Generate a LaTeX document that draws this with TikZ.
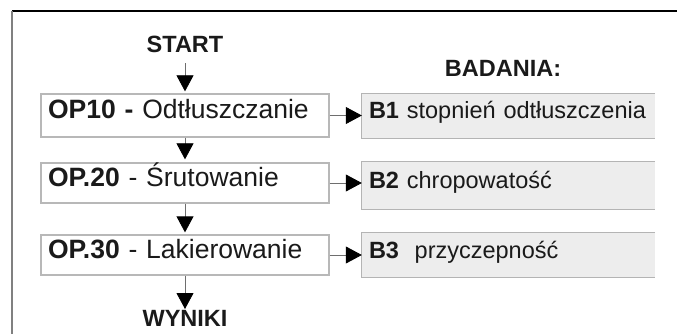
\documentclass[tikz,border=0pt]{standalone}
\usepackage{fontspec}
\setmainfont{Liberation Sans}
\usetikzlibrary{arrows.meta}

\definecolor{ink}{HTML}{1A1A1A}
\definecolor{opborder}{HTML}{B8B8B8}
\definecolor{bfill}{HTML}{EDEDED}
\definecolor{bborder}{HTML}{B4B4B4}
\definecolor{stem}{HTML}{6E6E6E}

\tikzset{
  opbox/.style={draw=opborder, line width=1.3pt, fill=white, rectangle,
    minimum width=288pt, inner xsep=7pt, inner ysep=0pt,
    text width=274pt, align=left, text=ink,
    font=\fontsize{26.5}{31}\selectfont, text height=0.75em, text depth=0.15em},
  bbox/.style={fill=bfill, rectangle,
    minimum width=293pt, inner xsep=7pt, inner ysep=0pt,
    text width=279pt, align=left, text=ink,
    font=\fontsize{23.5}{27}\selectfont, text height=0.75em, text depth=0.15em},
  bedge/.style={draw=bborder, line width=1.3pt},
  heading/.style={inner sep=0pt, text=ink, font=\bfseries\fontsize{23.5}{27}\selectfont,
    text height=0.75em, text depth=0.15em},
  flow/.style={draw=stem, line width=0.8pt,
    -{Triangle[length=16pt, width=17pt, fill=black, color=black]}},
}

\begin{document}
\begin{tikzpicture}[x=1pt, y=-1pt]
  \useasboundingbox (0,0) rectangle (677,334);

  % frame
  \draw[black, line width=1.2pt] (12,11) -- (677,11);
  \draw[gray, line width=2pt] (12,11) -- (12,334);

  % headings
  \node[heading, anchor=base] (start) at (185,52.7) {START};
  \node[heading, anchor=base] (badania) at (503,77) {BADANIA:};
  \node[heading, anchor=base] (wyniki) at (185,326.7) {WYNIKI};

  % operations
  \node[opbox, minimum height=43pt] (op10) at (185,115.5) {\textbf{OP10 -} Odtłuszczanie};
  \node[opbox, minimum height=40pt] (op20) at (185,183) {\textbf{OP.20} - Śrutowanie};
  \node[opbox, minimum height=40pt] (op30) at (185,255) {\textbf{OP.30} - Lakierowanie};

  % tests
  \node[bbox, minimum height=44pt] (b1) at (508.5,116) {\textbf{B1} stopnień odtłuszczenia};
  \node[bbox, minimum height=47pt] (b2) at (508.5,185.5) {\textbf{B2} chropowatość};
  \node[bbox, minimum height=44.6pt] (b3) at (508.5,255) {\textbf{B3}\ \ przyczepność};
  \foreach \b in {b1,b2,b3}
    \draw[bedge] (\b.north east) -- (\b.north west) -- (\b.south west) -- (\b.south east);

  % process flow
  \draw[flow, shorten <=9pt, shorten >=2pt] (start.south) -- (op10.north);
  \draw[flow, shorten >=3pt] (op10.south) -- (op20.north);
  \draw[flow, shorten >=2pt] (op20.south) -- (op30.north);
  \draw[flow, shorten >=10pt] (op30.south) -- (wyniki.north);

  % operation to test
  \draw[flow] (op10.east) -- (op10.east -| b1.west);
  \draw[flow] (op20.east) -- (op20.east -| b2.west);
  \draw[flow] (op30.east) -- (op30.east -| b3.west);
\end{tikzpicture}
\end{document}
